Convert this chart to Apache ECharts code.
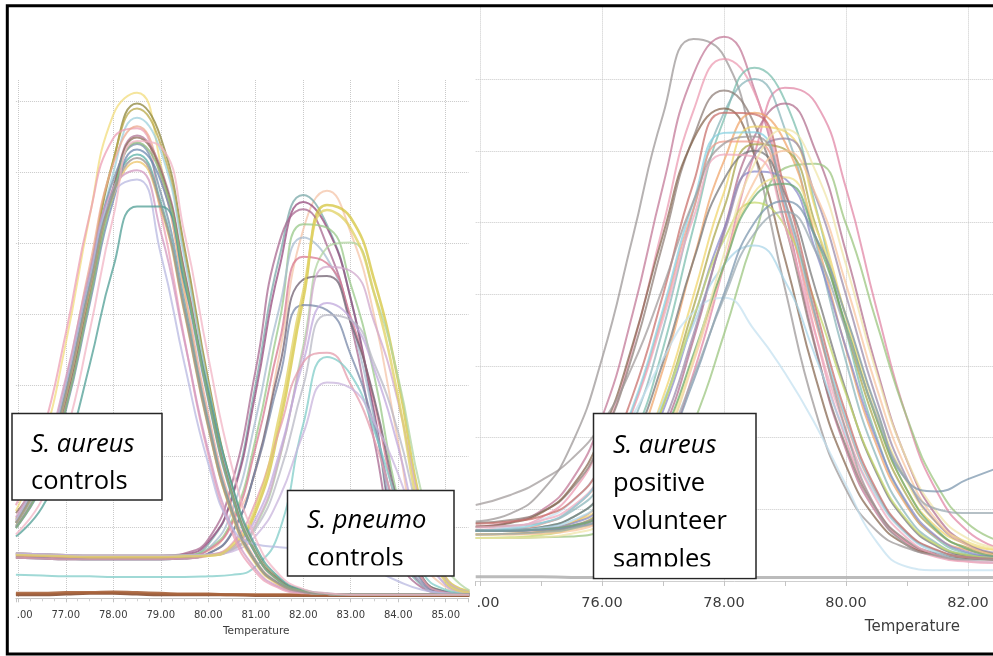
<!DOCTYPE html>
<html>
<head>
<meta charset="utf-8">
<script src="https://cdn.jsdelivr.net/npm/echarts@6/dist/echarts.min.js"></script>
<style>
html,body{margin:0;padding:0;background:#fff;}
#chart{width:993px;height:656px;}
</style>
</head>
<body>
<div id="chart"></div>
<script>
// ---------- LEFT PANEL (controls) ----------
const leftTemps = [75.95,76.5,77,77.5,78,78.5,79,79.5,80,80.5,81,81.5,82,82.5,83,83.5,84,84.5,85,85.5];

const leftAureus = [
  [1.23,2.16,3.59,5.37,6.81,7.12,6.11,4.29,2.46,1.17,0.48,0.18,0.08,0.06,0.05,0.05,0.05,0.05,0.05,0.05],
  [1.02,1.70,2.86,4.52,6.16,6.97,6.49,4.94,3.08,1.58,0.68,0.26,0.11,0.06,0.05,0.05,0.05,0.05,0.05,0.05],
  [1.12,1.78,2.93,4.56,6.17,6.90,6.39,4.86,3.03,1.56,0.67,0.26,0.11,0.06,0.05,0.05,0.05,0.05,0.05,0.05],
  [1.01,1.67,2.79,4.40,5.99,6.77,6.30,4.79,2.99,1.54,0.66,0.25,0.11,0.06,0.05,0.05,0.05,0.05,0.05,0.05],
  [1.31,2.30,3.73,5.39,6.48,6.62,5.43,3.65,2.02,0.93,0.37,0.14,0.07,0.06,0.05,0.05,0.05,0.05,0.05,0.05],
  [1.09,1.84,3.05,4.67,6.12,6.65,5.94,4.34,2.60,1.29,0.54,0.21,0.09,0.06,0.05,0.05,0.05,0.05,0.05,0.05],
  [1.00,1.63,2.71,4.25,5.77,6.52,6.06,4.61,2.88,1.48,0.64,0.25,0.10,0.06,0.05,0.05,0.05,0.05,0.05,0.05],
  [1.20,1.78,2.80,4.30,5.78,6.49,6.02,4.58,2.85,1.47,0.63,0.25,0.10,0.06,0.05,0.05,0.05,0.05,0.05,0.05],
  [1.07,1.79,2.95,4.50,5.89,6.40,5.71,4.17,2.50,1.24,0.52,0.20,0.09,0.06,0.05,0.05,0.05,0.05,0.05,0.05],
  [1.06,1.76,2.89,4.40,5.76,6.25,5.58,4.07,2.44,1.21,0.51,0.20,0.09,0.06,0.05,0.05,0.05,0.05,0.05,0.05],
  [0.99,1.59,2.64,4.13,5.60,6.32,5.88,4.47,2.79,1.43,0.62,0.24,0.10,0.06,0.05,0.05,0.05,0.05,0.05,0.05],
  [1.06,1.74,2.85,4.34,5.67,6.15,5.49,4.01,2.40,1.19,0.50,0.19,0.09,0.06,0.05,0.05,0.05,0.05,0.05,0.05],
  [1.14,1.92,3.10,4.59,5.78,6.03,5.16,3.62,2.08,1.00,0.41,0.16,0.08,0.06,0.05,0.05,0.05,0.05,0.05,0.05],
  [1.10,1.85,3.00,4.50,5.70,5.90,4.85,3.30,1.90,1.00,0.76,0.72,0.70,0.66,0.55,0.40,0.24,0.12,0.07,0.05],
  [0.87,1.28,2.05,3.28,4.66,5.52,5.52,4.43,2.93,1.60,0.73,0.29,0.12,0.07,0.05,0.05,0.05,0.05,0.05,0.05],
  [0.99,1.61,2.67,4.19,5.69,6.42,5.97,4.54,2.83,1.46,0.63,0.24,0.10,0.06,0.05,0.05,0.05,0.05,0.05,0.05],
  [1.06,1.75,2.87,4.37,5.71,6.20,5.53,4.04,2.42,1.20,0.50,0.20,0.09,0.06,0.05,0.05,0.05,0.05,0.05,0.05],
  [0.90,1.39,2.30,3.75,5.37,6.44,6.36,5.14,3.40,1.85,0.84,0.33,0.13,0.07,0.05,0.05,0.05,0.05,0.05,0.05]
];
const leftAureusColors = ['#f2dc7c','#8c843a','#b8a848','#9fd0dc','#ec9fb4','#eca890','#b07494','#8e6c58','#7890a8',
  '#5ab0a6','#6c88b0','#ecc468','#d098c0','#b8b8e0','#4f9e94','#88b878','#989090','#f2b4c4'];

const leftPneumo = [
  [0.63,0.62,0.61,0.60,0.60,0.60,0.60,0.61,0.67,1.07,1.80,3.44,5.19,5.74,5.15,3.96,2.20,0.60,0.16,0.07],
  [0.58,0.57,0.56,0.55,0.55,0.55,0.55,0.58,0.76,1.44,3.02,4.81,5.68,5.26,4.22,2.54,0.75,0.18,0.08,0.05],
  [0.63,0.62,0.61,0.60,0.60,0.60,0.60,0.62,0.79,1.42,2.90,4.66,5.58,5.22,4.22,2.60,0.80,0.20,0.08,0.05],
  [0.61,0.60,0.59,0.58,0.58,0.58,0.58,0.58,0.60,0.71,1.22,2.43,4.21,5.54,5.36,4.47,3.06,1.26,0.29,0.10],
  [0.60,0.59,0.58,0.58,0.58,0.58,0.58,0.63,0.83,1.62,3.22,5.02,5.48,4.97,3.88,2.20,0.63,0.15,0.07,0.05],
  [0.63,0.62,0.61,0.60,0.60,0.60,0.60,0.61,0.70,1.10,2.25,3.90,5.27,5.22,4.42,3.12,1.37,0.30,0.10,0.06],
  [0.58,0.57,0.56,0.55,0.55,0.55,0.55,0.57,0.70,1.23,2.52,4.10,5.08,4.79,3.92,2.51,0.89,0.20,0.07,0.05],
  [0.63,0.62,0.61,0.60,0.60,0.60,0.60,0.60,0.61,0.69,1.02,1.96,3.55,4.94,5.01,4.28,3.11,1.46,0.44,0.11],
  [0.60,0.59,0.58,0.58,0.58,0.58,0.58,0.59,0.68,1.05,2.13,3.61,4.81,4.72,3.96,2.75,1.20,0.27,0.09,0.05],
  [0.57,0.56,0.55,0.55,0.55,0.55,0.55,0.56,0.63,0.92,1.83,3.26,4.49,4.54,3.88,2.80,1.31,0.31,0.09,0.05],
  [0.63,0.62,0.61,0.60,0.60,0.60,0.60,0.60,0.61,0.69,1.05,1.98,3.47,4.67,4.61,3.88,2.76,1.21,0.27,0.09],
  [0.57,0.56,0.55,0.55,0.55,0.55,0.55,0.56,0.63,0.93,1.81,3.10,4.13,4.06,3.43,2.41,1.06,0.24,0.09,0.05],
  [0.63,0.62,0.61,0.60,0.60,0.60,0.60,0.60,0.62,0.72,1.12,2.05,3.33,4.16,3.94,3.22,2.13,0.81,0.19,0.07],
  [0.62,0.61,0.60,0.60,0.60,0.60,0.60,0.60,0.61,0.68,0.98,1.75,2.99,3.99,3.92,3.30,2.34,1.03,0.24,0.09],
  [0.57,0.56,0.55,0.55,0.55,0.55,0.55,0.56,0.60,0.77,1.36,2.37,3.32,3.46,3.01,2.23,1.15,0.29,0.08,0.05],
  [0.33,0.32,0.31,0.31,0.30,0.30,0.30,0.30,0.31,0.33,0.45,0.95,2.45,3.40,3.15,2.35,1.30,0.38,0.12,0.06],
  [0.62,0.61,0.60,0.60,0.60,0.60,0.60,0.60,0.61,0.66,0.88,1.42,2.32,3.04,2.96,2.47,1.75,0.78,0.19,0.08],
  [0.61,0.60,0.59,0.58,0.58,0.58,0.58,0.59,0.60,0.74,1.28,2.58,4.32,5.47,5.21,4.28,2.83,1.06,0.23,0.08]
];
const leftPneumoColors = ['#f4c4a8','#7aa8a8','#944a7c','#d4c43c','#a86890','#98c888','#a8bcd0','#b0d4a0','#d87890',
  '#706070','#d0a8cc','#7888a8','#c0a8dc','#b8b8c4','#e49cac','#80ccc8','#c8b4dc','#e0d060'];

const leftFlat = [
  [0.05,0.05,0.06,0.07,0.07,0.06,0.05,0.05,0.05,0.05,0.04,0.04,0.04,0.04,0.04,0.04,0.04,0.04,0.04,0.04],
  [0.07,0.07,0.08,0.08,0.09,0.08,0.07,0.06,0.06,0.05,0.05,0.05,0.05,0.05,0.05,0.05,0.05,0.05,0.05,0.05]
];
const leftFlatColors = ['#8a4e30','#a8643c'];

// ---------- RIGHT PANEL (volunteer samples) ----------
const rightTemps = [73.93,74.5,75,75.5,76,76.5,77,77.5,78,78.5,79,79.5,80,80.5,81,81.5,82,82.5];

const rightSamples = [
  [0.83,0.94,1.24,1.90,3.10,4.78,6.50,7.56,7.32,5.97,4.08,2.37,1.28,0.70,0.46,0.38,0.36,0.35],
  [0.76,0.82,0.98,1.40,2.28,3.72,5.51,7.07,7.59,6.85,5.17,3.27,1.83,0.95,0.53,0.37,0.32,0.30],
  [0.71,0.75,0.88,1.22,1.97,3.25,4.95,6.56,7.28,6.81,5.31,3.45,1.97,1.01,0.53,0.33,0.27,0.25],
  [0.70,0.71,0.75,0.88,1.22,1.96,3.24,4.93,6.44,7.16,6.70,5.23,3.49,2.01,1.06,0.58,0.38,0.32],
  [0.70,0.70,0.71,0.74,0.84,1.12,1.75,2.90,4.40,5.96,6.88,6.67,5.48,3.80,2.27,1.23,0.69,0.46],
  [0.75,0.77,0.81,0.97,1.36,2.18,3.51,5.18,6.53,7.00,6.30,4.73,3.06,1.73,0.91,0.52,0.36,0.32],
  [0.70,0.70,0.72,0.76,0.91,1.29,2.08,3.37,4.89,6.20,6.66,6.00,4.59,2.97,1.68,0.89,0.51,0.36],
  [0.81,0.85,0.96,1.28,1.97,3.15,4.71,6.19,6.84,6.37,4.98,3.24,1.88,1.00,0.56,0.38,0.32,0.30],
  [0.76,0.81,0.95,1.31,2.06,3.29,4.83,6.16,6.59,5.94,4.49,2.84,1.61,0.86,0.50,0.36,0.31,0.30],
  [0.65,0.66,0.69,0.81,1.12,1.79,2.95,4.48,5.86,6.53,6.12,4.80,3.23,1.90,1.04,0.60,0.43,0.37],
  [0.70,0.71,0.73,0.81,1.04,1.57,2.56,3.98,5.42,6.34,6.27,5.19,3.68,2.26,1.27,0.74,0.51,0.43],
  [0.70,0.72,0.79,1.00,1.47,2.38,3.72,5.19,6.13,6.13,5.15,3.62,2.22,1.22,0.66,0.42,0.33,0.31],
  [0.65,0.66,0.68,0.76,0.98,1.49,2.45,3.82,5.20,6.09,6.02,4.97,3.52,2.15,1.19,0.68,0.46,0.38],
  [0.60,0.60,0.61,0.62,0.69,0.88,1.34,2.20,3.44,4.81,5.76,5.82,4.98,3.61,2.28,1.32,0.80,0.56],
  [0.70,0.71,0.73,0.80,1.01,1.49,2.37,3.65,4.91,5.71,5.61,4.61,3.25,1.97,1.09,0.61,0.40,0.33],
  [0.65,0.65,0.67,0.72,0.87,1.24,1.98,3.12,4.41,5.42,5.63,4.93,3.69,2.37,1.38,0.80,0.54,0.44],
  [0.70,0.71,0.75,0.88,1.22,1.91,3.05,4.47,5.60,6.00,5.40,4.07,2.65,1.51,0.82,0.48,0.35,0.31],
  [0.70,0.71,0.74,0.84,1.10,1.63,2.49,3.58,4.41,4.68,4.18,3.13,2.04,1.18,0.65,0.39,0.29,0.26],
  [0.70,0.75,0.85,1.10,1.60,2.30,3.10,3.75,3.95,3.50,2.90,2.18,1.34,0.55,0.20,0.15,0.15,0.15],
  [0.60,0.61,0.64,0.73,0.98,1.51,2.44,3.67,4.76,5.28,4.95,3.87,2.61,1.54,0.85,0.50,0.36,0.32],
  [0.75,0.77,0.84,1.03,1.49,2.37,3.65,5.07,5.95,5.92,4.95,3.44,2.10,1.13,0.60,0.36,0.28,0.26],
  [0.70,0.73,0.80,1.00,1.49,2.42,3.79,5.29,6.25,6.26,5.26,3.69,2.26,1.24,0.67,0.42,0.33,0.31],
  [0.70,0.70,0.72,0.77,0.94,1.35,2.17,3.44,4.84,5.94,6.17,5.37,3.99,2.54,1.43,0.80,0.50,0.39],
  [0.80,0.83,0.90,1.11,1.62,2.58,3.99,5.55,6.53,6.51,5.46,3.81,2.33,1.27,0.68,0.43,0.33,0.31],
  [0.65,0.65,0.66,0.70,0.84,1.18,1.89,3.05,4.40,5.58,6.00,5.40,4.14,2.70,1.54,0.83,0.49,0.35],
  [0.70,0.70,0.72,0.77,0.91,1.28,2.02,3.16,4.40,5.36,5.54,4.80,3.57,2.26,1.27,0.70,0.44,0.34],
  [0.60,0.60,0.61,0.66,0.79,1.15,1.89,3.10,4.56,5.82,6.30,5.72,4.41,2.90,1.69,0.95,0.59,0.46],
  [0.70,0.70,0.71,0.75,0.86,1.16,1.78,2.79,4.00,5.00,5.30,4.80,3.70,2.40,1.40,1.25,1.42,1.58],
  [0.65,0.66,0.68,0.73,0.87,1.20,1.85,2.85,3.95,4.85,5.15,4.60,3.50,2.30,1.40,1.00,0.95,0.95],
  [1.06,1.20,1.40,1.70,2.20,3.00,4.10,5.30,6.10,6.20,5.30,3.70,2.10,1.00,0.50,0.35,0.30,0.30]
];
const rightColors = ['#9a9494','#c07494','#ec98b0','#78bcac','#e084a4','#88b4b8','#b06c8c','#8c7c74','#84644c','#f0a468',
  '#f0d468','#f09888','#a8a448','#98c47c','#8888c8','#f0e088','#747474','#a8d4e8','#c4e0f0','#c4d868',
  '#f0a8bc','#84d0e0','#9888a8','#c86c68','#f8c49c','#68a870','#f0e4a8','#7894ac','#98a8b0','#a09898'];
const rightBaseline = [0.06,0.06,0.06,0.05,0.05,0.05,0.05,0.05,0.05,0.05,0.05,0.05,0.05,0.05,0.05,0.05,0.05,0.05];

// ---------- build ----------
function mk(temps, vals, color, idx, width, opacity) {
  return {
    type: 'line', xAxisIndex: idx, yAxisIndex: idx,
    data: temps.map((t, i) => [t, vals[i]]),
    smooth: 0.5, showSymbol: false, symbol: 'none', silent: true,
    lineStyle: { color: color, width: width, opacity: opacity },
    z: 2
  };
}
const series = [];
leftFlat.forEach((v, i) => series.push(mk(leftTemps, v, leftFlatColors[i], 0, 3, 0.9)));
leftPneumo.forEach((v, i) => series.push(mk(leftTemps, v, leftPneumoColors[i], 0, (i === 3 || i === 17) ? 2.6 : 2, 0.75)));
leftAureus.forEach((v, i) => series.push(mk(leftTemps, v, leftAureusColors[i], 0, 2, 0.75)));
series.push(mk(rightTemps, rightBaseline, '#b4b4b4', 1, 3, 0.9));
rightSamples.forEach((v, i) => series.push(mk(rightTemps, v, rightColors[i], 1, 2, 0.72)));

const gridLine = { type: 'dotted', color: '#c9c9c9', width: 1 };
const labelColor = '#3c3c3c';

const option = {
  animation: false,
  backgroundColor: '#ffffff',
  grid: [
    { left: 15.9, top: 80, width: 452.6, height: 518.3, containLabel: false, outerBoundsMode: 'none' },
    { left: 475.7, top: 7.4, width: 553.3, height: 573.6, containLabel: false, outerBoundsMode: 'none' }
  ],
  xAxis: [
    {
      type: 'value', gridIndex: 0, min: 75.95, max: 85.48, minInterval: 1, maxInterval: 1,
      axisLine: { show: true, lineStyle: { color: '#c4c4c4', width: 1 } },
      axisTick: { show: true, length: 4, lineStyle: { color: '#c4c4c4' } },
      minorTick: { show: true, splitNumber: 4, length: 3, lineStyle: { color: '#d0d0d0' } },
      minorSplitLine: { show: false },
      axisLabel: {
        show: true, showMinLabel: false, showMaxLabel: false, margin: 12,
        color: labelColor, fontFamily: 'DejaVu Sans', fontSize: 10,
        formatter: function (v) { return Math.abs(v - 76) < 1e-6 ? '{c|.00}' : v.toFixed(2); },
        rich: { c: { color: labelColor, fontFamily: 'DejaVu Sans', fontSize: 10, padding: [0, 0, 0, 13] } }
      },
      splitLine: { show: true, showMinLine: false, showMaxLine: false, lineStyle: gridLine },
      name: 'Temperature', nameLocation: 'middle', nameGap: 27,
      nameTextStyle: { color: labelColor, fontFamily: 'DejaVu Sans', fontSize: 10.5, padding: [0, 0, 0, 28] }
    },
    {
      type: 'value', gridIndex: 1, min: 73.93, max: 83, minInterval: 2, maxInterval: 2,
      axisLine: { show: true, lineStyle: { color: '#cfcfcf', width: 1 } },
      axisTick: { show: true, length: 5, lineStyle: { color: '#c4c4c4' } },
      minorTick: { show: true, splitNumber: 2, length: 5, lineStyle: { color: '#c4c4c4' } },
      axisLabel: {
        show: true, showMinLabel: false, showMaxLabel: false, margin: 15,
        color: labelColor, fontFamily: 'DejaVu Sans', fontSize: 14.5,
        formatter: function (v) { return Math.abs(v - 74) < 1e-6 ? '{c|.00}' : v.toFixed(2); },
        rich: { c: { color: labelColor, fontFamily: 'DejaVu Sans', fontSize: 14.5, padding: [0, 0, 0, 16] } }
      },
      splitLine: { show: true, showMinLine: false, showMaxLine: false, lineStyle: gridLine },
      name: 'Temperature', nameLocation: 'middle', nameGap: 39,
      nameTextStyle: { color: labelColor, fontFamily: 'DejaVu Sans', fontSize: 15, padding: [0, 0, 0, 320] }
    }
  ],
  yAxis: [
    {
      type: 'value', gridIndex: 0, min: 0, max: 7.3, interval: 1,
      axisLine: { show: false }, axisTick: { show: false }, axisLabel: { show: false },
      splitLine: { show: true, showMinLine: false, showMaxLine: false, lineStyle: gridLine }
    },
    {
      type: 'value', gridIndex: 1, min: 0, max: 8, interval: 1,
      axisLine: { show: false }, axisTick: { show: false }, axisLabel: { show: false },
      splitLine: { show: true, showMinLine: false, showMaxLine: false, lineStyle: gridLine }
    }
  ],
  series: series,
  graphic: [
    // box 1
    { type: 'rect', z: 100, shape: { x: 12, y: 413.5, width: 150, height: 86.5 },
      style: { fill: '#ffffff', stroke: '#262626', lineWidth: 1.5 } },
    { type: 'text', z: 101, x: 31, y: 444.4,
      style: { text: 'S. aureus', font: 'italic 25.5px "Open Sans"', fill: '#000', textVerticalAlign: 'middle' } },
    { type: 'text', z: 101, x: 31, y: 482,
      style: { text: 'controls', font: '25.5px "Open Sans"', fill: '#000', textVerticalAlign: 'middle' } },
    // box 2
    { type: 'rect', z: 100, shape: { x: 287.5, y: 490.5, width: 166.5, height: 85.5 },
      style: { fill: '#ffffff', stroke: '#262626', lineWidth: 1.5 } },
    { type: 'text', z: 101, x: 307, y: 521,
      style: { text: 'S. pneumo', font: 'italic 25.5px "Open Sans"', fill: '#000', textVerticalAlign: 'middle' } },
    { type: 'text', z: 101, x: 307, y: 558.7,
      style: { text: 'controls', font: '25.5px "Open Sans"', fill: '#000', textVerticalAlign: 'middle' } },
    { type: 'rect', z: 102, shape: { x: 289, y: 565.5, width: 163.5, height: 9.5 },
      style: { fill: '#ffffff', stroke: null } },
    // box 3
    { type: 'rect', z: 100, shape: { x: 593.5, y: 413.5, width: 162.5, height: 165 },
      style: { fill: '#ffffff', stroke: '#262626', lineWidth: 1.5 } },
    { type: 'text', z: 101, x: 613, y: 445.5,
      style: { text: 'S. aureus', font: 'italic 25.5px "Open Sans"', fill: '#000', textVerticalAlign: 'middle' } },
    { type: 'text', z: 101, x: 613, y: 483.3,
      style: { text: 'positive', font: '25.5px "Open Sans"', fill: '#000', textVerticalAlign: 'middle' } },
    { type: 'text', z: 101, x: 613, y: 521.5,
      style: { text: 'volunteer', font: '25.5px "Open Sans"', fill: '#000', textVerticalAlign: 'middle' } },
    { type: 'text', z: 101, x: 613, y: 559.5,
      style: { text: 'samples', font: '25.5px "Open Sans"', fill: '#000', textVerticalAlign: 'middle' } },
    { type: 'rect', z: 102, shape: { x: 595, y: 566.5, width: 159.5, height: 11 },
      style: { fill: '#ffffff', stroke: null } },
    // outer frame
    { type: 'rect', z: 110, shape: { x: 7.3, y: 5.7, width: 992, height: 648.3 },
      style: { fill: null, stroke: '#000000', lineWidth: 3 } }
  ]
};

const chart = echarts.init(document.getElementById('chart'), null, { renderer: 'canvas' });
chart.setOption(option);
</script>
</body>
</html>
